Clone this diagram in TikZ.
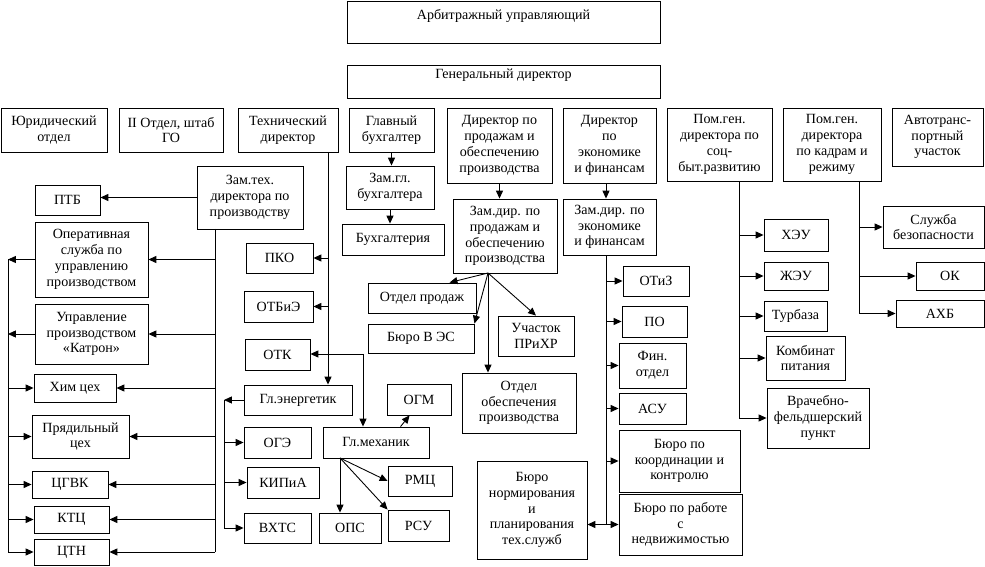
\documentclass[tikz,border=0pt]{standalone}
\usepackage{fontspec}
\setmainfont{Liberation Serif}
\usetikzlibrary{arrows.meta, positioning, calc}

% box from its corners (in pixels of the sketch)
\newcommand{\obox}[6]{\node[box, minimum width={(#4-#2)*0.02cm}, minimum height={(#5-#3)*0.02cm}] (#1) at ({(#2+#4)/2},{(#3+#5)/2}) {#6};}

\begin{document}
\begin{tikzpicture}
        [
            x=0.02cm, y=-0.02cm,
            box/.style={rectangle, draw=black, line width=0.5pt, inner sep=0pt, align=center, font=\fontsize{8}{9}\selectfont},
            arr/.style={-{Triangle[length=4.5pt,width=4pt]}, line width=0.5pt},
            ln/.style={line width=0.5pt},
        ]
        \useasboundingbox (0,0) rectangle (985,567);
        % top
        \obox{arb}{347}{1}{660}{43}{Арбитражный управляющий\\ ~}
        \obox{gen}{347}{65}{660}{98}{Генеральный директор\\ ~}
        % directors row
        \obox{jur}{1}{108}{107}{152}{Юридический\\отдел}
        \obox{otd}{119}{108}{223}{152}{II Отдел, штаб\\ГО}
        \obox{tech}{238}{108}{338}{152}{Технический\\директор}
        \obox{glbuh}{349}{108}{434}{152}{Главный\\бухгалтер}
        \obox{dirpr}{447}{108}{552}{183}{Директор по\\продажам и\\обеспечению\\производства}
        \obox{direk}{563}{108}{656}{183}{Директор\\по\\экономике\\и финансам}
        \obox{pomsoc}{667}{108}{772}{181}{Пом.ген.\\директора по\\соц-\\быт.развитию}
        \obox{pomkadr}{783}{108}{881}{181}{Пом.ген.\\директора\\по кадрам и\\режиму}
        \obox{avto}{892}{108}{983}{166}{Автотранс-\\портный\\участок}
        % production
        \obox{zamtech}{197}{166}{303}{229}{Зам.тех.\\директора по\\производству}
        \obox{ptb}{35}{185}{100}{215}{ПТБ}
        \obox{oper}{35}{222}{148}{297}{Оперативная\\служба по\\управлению\\производством}
        \obox{upr}{35}{304}{148}{364}{Управление\\производством\\«Катрон»}
        \obox{him}{34}{374}{116}{402}{Хим цех}
        \obox{pryad}{32}{415}{129}{458}{Прядильный\\цех}
        \obox{cgvk}{32}{471}{108}{498}{ЦГВК}
        \obox{ktc}{34}{506}{109}{533}{КТЦ}
        \obox{ctn}{34}{539}{109}{565}{ЦТН}
        % technical services
        \obox{pko}{246}{243}{313}{273}{ПКО}
        \obox{otbie}{244}{291}{313}{322}{ОТБиЭ}
        \obox{otk}{245}{339}{310}{370}{ОТК}
        \obox{glen}{244}{385}{352}{415}{Гл.энергетик}
        \obox{oge}{244}{427}{311}{458}{ОГЭ}
        \obox{kipia}{247}{467}{319}{498}{КИПиА}
        \obox{vhts}{244}{513}{311}{543}{ВХТС}
        \obox{glmeh}{323}{427}{429}{458}{Гл.механик}
        \obox{ogm}{387}{384}{451}{415}{ОГМ}
        \obox{rmc}{388}{466}{452}{496}{РМЦ}
        \obox{rsu}{388}{510}{449}{541}{РСУ}
        \obox{ops}{319}{513}{381}{543}{ОПС}
        % accounting and sales
        \obox{zamgb}{346}{166}{434}{209}{Зам.гл.\\бухгалтера}
        \obox{buh}{342}{224}{444}{255}{Бухгалтерия}
        \obox{zampr}{453}{199}{557}{273}{Зам.дир. по\\продажам и\\обеспечению\\производства}
        \obox{otdpr}{368}{283}{476}{313}{Отдел продаж}
        \obox{bves}{368}{324}{474}{353}{Бюро В ЭС}
        \obox{uch}{498}{316}{574}{356}{Участок\\ПРиХР}
        \obox{otdob}{462}{373}{576}{433}{Отдел\\обеспечения\\производства}
        \obox{norm}{477}{461}{587}{559}{Бюро\\нормирования\\и\\планирования\\тех.служб}
        % economics
        \obox{zamek}{563}{199}{656}{255}{Зам.дир. по\\экономике\\и финансам}
        \obox{otiz}{623}{266}{689}{296}{ОТиЗ}
        \obox{po}{622}{306}{687}{337}{ПО}
        \obox{fin}{619}{343}{686}{388}{Фин.\\отдел}
        \obox{asu}{619}{393}{686}{424}{АСУ}
        \obox{koord}{619}{430}{740}{492}{Бюро по\\координации и\\контролю}
        \obox{nedv}{619}{494}{742}{555}{Бюро по работе\\с\\недвижимостью}
        % social
        \obox{heu}{764}{219}{828}{251}{ХЭУ}
        \obox{zheu}{764}{262}{828}{290}{ЖЭУ}
        \obox{turb}{764}{301}{827}{331}{Турбаза}
        \obox{komb}{766}{336}{845}{380}{Комбинат\\питания}
        \obox{vrach}{767}{388}{869}{448}{Врачебно-\\фельдшерский\\пункт}
        % personnel
        \obox{sb}{883}{206}{984}{248}{Служба\\безопасности}
        \obox{ok}{916}{262}{984}{290}{ОК}
        \obox{ahb}{896}{300}{984}{327}{АХБ}

        % buses
        \coordinate (zb) at (215,229);
        \coordinate (lb) at (8,0);
        \coordinate (tb) at (328,152);
        \coordinate (mb) at (363,354);
        \coordinate (eb) at (224,400);
        \coordinate (mf) at (340,458);
        \coordinate (zf) at (488,273);
        \coordinate (kb) at (606,0);
        \coordinate (sbus) at (739,181);
        \coordinate (kbus) at (859,181);

        % technical director
        \draw[arr] (tb) -- (tb |- glen.north);
        \foreach \n in {pko,otbie}
            \draw[arr] (tb |- \n.east) -- (\n.east);
        \draw[arr] (mb) -- (mb -| otk.east);
        \draw[arr] (mb) -- (mb |- glmeh.north);
        \draw[arr] (glen.west) -- (eb);
        \draw[ln] (eb) -- (eb |- vhts.west);
        \foreach \n in {oge,kipia,vhts}
            \draw[arr] (eb |- \n.west) -- (\n.west);
        \draw[arr] (mf) -- (mf |- ops.north);
        \draw[arr] (mf) -- (rmc.west);
        \draw[arr] (mf) -- (rsu.north west);
        \draw[arr] ($(glmeh.north west)+(78,0)$) -- ($(ogm.south west)+(23,0)$);

        % production
        \draw[arr] (zamtech.west) -- (zamtech.west -| ptb.east);
        \draw[ln] (zb) -- (zb |- ctn.east);
        \foreach \n in {oper,upr,him,pryad,cgvk,ktc,ctn}
            \draw[arr] (zb |- \n.east) -- (\n.east);
        \draw[arr] (oper.west) -- (oper.west -| lb);
        \draw[arr] (upr.west) -- (upr.west -| lb);
        \draw[ln] (oper.west -| lb) -- (ctn.west -| lb);
        \foreach \n in {him,pryad,cgvk,ktc,ctn}
            \draw[arr] (\n.west -| lb) -- (\n.west);

        % accounting, sales
        \draw[arr] (glbuh.south) -- (glbuh.south |- zamgb.north);
        \draw[arr] (zamgb.south) -- (zamgb.south |- buh.north);
        \draw[arr] (dirpr.south) -- (dirpr.south |- zampr.north);
        \draw[arr] (zf) -- ($(otdpr.north west)+(82,0)$);
        \draw[arr] (zf) -- (bves.north east);
        \draw[arr] (zf) -- (uch.north);
        \draw[arr] (zf) -- (zf |- otdob.north);

        % economics
        \draw[arr] (direk.south -| kb) -- (zamek.north -| kb);
        \draw[ln] (zamek.south -| kb) -- (nedv.west -| kb);
        \foreach \n in {otiz,po,fin,asu,koord,nedv}
            \draw[arr] (\n.west -| kb) -- (\n.west);
        \draw[arr] (nedv.west -| kb) -- (nedv.west -| norm.east);

        % social, personnel
        \draw[ln] (sbus) -- (sbus |- vrach.west);
        \foreach \n in {heu,zheu,turb,komb,vrach}
            \draw[arr] (sbus |- \n.west) -- (\n.west);
        \draw[ln] (kbus) -- (kbus |- ahb.west);
        \foreach \n in {sb,ok,ahb}
            \draw[arr] (kbus |- \n.west) -- (\n.west);
      \end{tikzpicture}
\end{document}
